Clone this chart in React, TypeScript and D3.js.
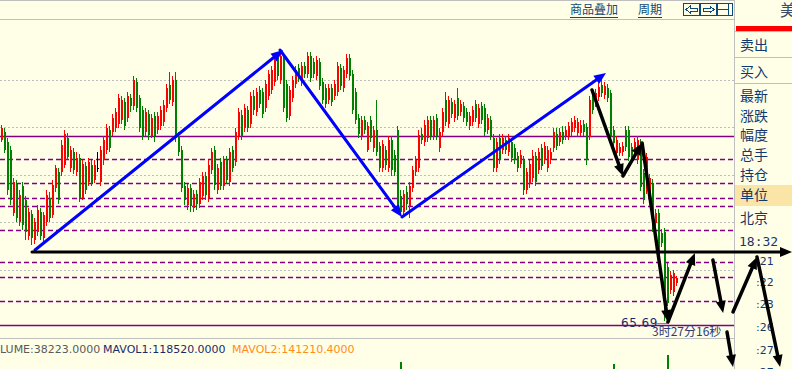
import * as d3 from "d3";

// candle prices, one per bar, left to right
const open = [
  67.50, 67.58, 67.48, 67.40, 66.77, 67.06, 66.68, 67.04, 66.90, 66.54,
  66.76, 66.50, 66.58, 66.78, 66.52, 66.68, 66.92, 66.75, 67.02, 67.18,
  67.18, 67.25, 67.52, 67.22, 67.38, 67.18, 67.32, 66.92, 67.24, 67.08,
  67.25, 67.10, 67.22, 67.08, 67.30, 67.40, 67.60, 67.58, 67.62, 67.66,
  67.70, 67.88, 67.72, 67.92, 67.84, 68.08, 67.92, 67.80, 67.58, 67.76,
  67.54, 67.74, 67.60, 67.64, 67.68, 67.82, 68.05, 67.88, 68.10, 67.54,
  67.40, 67.04, 66.85, 67.02, 66.82, 66.96, 66.86, 66.94, 67.14, 66.92,
  67.20, 67.40, 67.00, 67.28, 67.04, 67.30, 67.08, 67.40, 67.28, 67.54,
  67.75, 67.62, 67.80, 67.66, 67.94, 67.78, 68.00, 67.98, 67.82, 67.94,
  68.00, 68.08, 68.32, 68.10, 68.32, 68.06, 67.74, 67.92, 68.06, 68.22,
  68.08, 68.24, 68.16, 68.34, 68.28, 68.14, 68.28, 68.08, 68.02, 67.90,
  68.02, 67.94, 67.98, 68.22, 68.02, 68.16, 68.32, 68.16, 67.98, 67.72,
  67.54, 67.70, 67.40, 67.70, 67.42, 67.60, 67.44, 67.22, 67.40, 67.22,
  67.50, 67.35, 67.60, 66.94, 66.78, 66.98, 66.84, 67.02, 67.18, 67.22,
  67.56, 67.48, 67.52, 67.70, 67.54, 67.72, 67.42, 67.58, 67.90, 67.66,
  67.88, 67.72, 67.92, 67.78, 67.84, 67.78, 67.64, 67.68, 67.86, 67.66,
  67.84, 67.82, 67.60, 67.70, 67.52, 67.22, 67.52, 67.40, 67.50, 67.38,
  67.48, 67.42, 67.34, 67.26, 67.30, 67.00, 67.06, 67.12, 67.34, 67.20,
  67.42, 67.30, 67.22, 67.30, 67.42, 67.56, 67.48, 67.58, 67.54, 67.54,
  67.58, 67.62, 67.57, 67.57, 67.66, 67.63, 67.53, 67.93, 67.87, 67.93,
  68.05, 67.95, 68.02, 67.97, 67.60, 67.37, 67.37, 67.38, 67.60, 67.60,
  67.43, 67.40, 67.30, 67.47, 67.17, 67.00, 66.97, 67.07, 66.67, 66.77,
  66.57, 66.58, 66.23, 66.00, 65.98, 66.07,
];
const close = [
  67.62, 67.40, 67.00, 66.90, 67.08, 66.72, 66.95, 66.65, 66.58, 66.78,
  66.52, 66.68, 66.80, 66.54, 66.75, 66.95, 66.72, 67.05, 67.22, 66.90,
  67.45, 67.56, 67.33, 67.40, 67.20, 67.32, 66.92, 67.26, 67.00, 67.28,
  67.07, 67.25, 67.22, 67.40, 67.50, 67.62, 67.42, 67.72, 67.78, 67.92,
  67.90, 67.64, 67.94, 67.84, 68.10, 67.82, 67.62, 67.54, 67.78, 67.55,
  67.72, 67.54, 67.74, 67.80, 67.85, 68.02, 67.90, 68.10, 67.52, 67.38,
  67.02, 66.90, 67.02, 66.84, 66.96, 66.86, 67.08, 67.14, 66.95, 67.25,
  67.38, 67.05, 67.22, 67.04, 67.30, 67.10, 67.38, 67.22, 67.58, 67.78,
  67.54, 67.82, 67.62, 67.94, 67.80, 67.98, 67.86, 67.76, 68.06, 68.16,
  68.20, 68.30, 68.14, 68.34, 67.82, 67.72, 68.00, 68.10, 68.20, 68.12,
  68.24, 68.16, 68.34, 68.12, 68.16, 68.30, 68.04, 67.90, 67.86, 68.02,
  67.88, 68.06, 68.24, 68.04, 68.20, 68.32, 68.14, 67.80, 67.70, 67.56,
  67.70, 67.60, 67.64, 67.52, 67.60, 67.38, 67.22, 67.46, 67.25, 67.50,
  67.20, 67.18, 66.85, 66.78, 66.96, 66.86, 67.04, 67.20, 67.30, 67.55,
  67.50, 67.65, 67.70, 67.54, 67.70, 67.54, 67.58, 67.78, 67.68, 67.90,
  67.76, 67.86, 67.74, 67.86, 67.72, 67.68, 67.74, 67.80, 67.72, 67.82,
  67.70, 67.58, 67.72, 67.54, 67.22, 67.48, 67.30, 67.52, 67.40, 67.52,
  67.32, 67.30, 67.22, 67.35, 67.00, 67.18, 67.26, 67.34, 67.08, 67.38,
  67.24, 67.44, 67.40, 67.38, 67.58, 67.44, 67.58, 67.50, 67.60, 67.64,
  67.68, 67.70, 67.68, 67.65, 67.58, 67.30, 67.90, 67.80, 67.97, 68.03,
  67.97, 68.04, 67.92, 67.53, 67.47, 67.50, 67.43, 67.44, 67.43, 67.33,
  67.30, 67.48, 67.50, 67.03, 66.90, 67.33, 67.12, 66.63, 66.77, 66.30,
  66.47, 65.77, 65.87, 66.15, 66.17, 66.12,
];
const high = [
  67.65, 67.62, 67.52, 67.44, 67.12, 67.10, 67.00, 67.08, 66.94, 66.82,
  66.80, 66.72, 66.85, 66.82, 66.78, 67.00, 66.98, 67.10, 67.25, 67.22,
  67.50, 67.60, 67.57, 67.44, 67.42, 67.38, 67.36, 67.30, 67.28, 67.32,
  67.30, 67.30, 67.38, 67.44, 67.54, 67.66, 67.64, 67.76, 67.82, 67.96,
  67.94, 67.92, 67.98, 67.96, 68.14, 68.12, 67.95, 67.84, 67.82, 67.80,
  67.76, 67.78, 67.78, 67.84, 67.90, 68.06, 68.18, 68.14, 68.18, 67.58,
  67.44, 67.08, 67.06, 67.06, 67.00, 67.00, 67.12, 67.18, 67.18, 67.30,
  67.42, 67.44, 67.26, 67.32, 67.34, 67.34, 67.42, 67.44, 67.62, 67.82,
  67.80, 67.86, 67.84, 67.98, 68.00, 68.02, 68.04, 68.02, 68.10, 68.20,
  68.24, 68.34, 68.38, 68.38, 68.36, 68.10, 68.04, 68.14, 68.24, 68.26,
  68.28, 68.28, 68.38, 68.38, 68.32, 68.34, 68.32, 68.12, 68.06, 68.06,
  68.06, 68.10, 68.28, 68.26, 68.24, 68.36, 68.36, 68.20, 68.02, 67.76,
  67.74, 67.74, 67.68, 67.74, 67.64, 67.90, 67.48, 67.50, 67.44, 67.54,
  67.54, 67.40, 67.64, 67.00, 67.00, 67.04, 67.08, 67.24, 67.34, 67.60,
  67.62, 67.70, 67.74, 67.74, 67.74, 67.76, 67.62, 67.82, 67.98, 67.94,
  67.92, 67.90, 68.02, 67.90, 67.88, 67.82, 67.78, 67.84, 67.90, 67.86,
  67.88, 67.86, 67.76, 67.74, 67.56, 67.52, 67.56, 67.56, 67.54, 67.56,
  67.52, 67.46, 67.38, 67.40, 67.34, 67.22, 67.30, 67.40, 67.38, 67.42,
  67.46, 67.48, 67.44, 67.42, 67.62, 67.62, 67.62, 67.64, 67.64, 67.68,
  67.72, 67.74, 67.72, 67.70, 67.70, 67.67, 67.94, 67.97, 68.01, 68.07,
  68.12, 68.08, 68.06, 68.00, 67.64, 67.54, 67.47, 67.48, 67.64, 67.64,
  67.47, 67.52, 67.54, 67.51, 67.21, 67.37, 67.16, 67.11, 66.81, 66.81,
  66.61, 66.62, 66.27, 66.19, 66.20, 66.14,
];
const low = [
  67.48, 67.37, 66.95, 66.85, 66.74, 66.68, 66.64, 66.60, 66.50, 66.50,
  66.45, 66.46, 66.54, 66.50, 66.48, 66.64, 66.68, 66.72, 66.98, 66.86,
  67.14, 67.22, 67.30, 67.18, 67.16, 67.14, 66.88, 66.90, 66.96, 67.04,
  67.04, 67.07, 67.18, 67.04, 67.25, 67.36, 67.38, 67.54, 67.58, 67.62,
  67.66, 67.60, 67.68, 67.78, 67.80, 67.78, 67.58, 67.50, 67.54, 67.50,
  67.52, 67.48, 67.56, 67.60, 67.64, 67.78, 67.86, 67.84, 67.48, 67.34,
  66.98, 66.85, 66.80, 66.78, 66.78, 66.80, 66.82, 66.90, 66.90, 66.88,
  67.16, 67.00, 66.96, 67.00, 67.00, 67.06, 67.04, 67.18, 67.24, 67.50,
  67.50, 67.58, 67.58, 67.62, 67.75, 67.74, 67.82, 67.72, 67.78, 67.90,
  67.96, 68.04, 68.10, 68.06, 67.78, 67.68, 67.70, 67.88, 68.02, 68.08,
  68.04, 68.12, 68.12, 68.08, 68.12, 68.10, 68.00, 67.86, 67.82, 67.86,
  67.84, 67.90, 67.94, 68.00, 67.98, 68.12, 68.10, 67.76, 67.66, 67.52,
  67.50, 67.56, 67.38, 67.48, 67.38, 67.34, 67.18, 67.18, 67.20, 67.18,
  67.14, 67.14, 66.80, 66.74, 66.74, 66.80, 66.72, 66.98, 67.14, 67.18,
  67.46, 67.44, 67.48, 67.50, 67.50, 67.50, 67.38, 67.54, 67.64, 67.62,
  67.72, 67.68, 67.70, 67.74, 67.68, 67.64, 67.60, 67.64, 67.68, 67.62,
  67.66, 67.54, 67.56, 67.50, 67.18, 67.18, 67.26, 67.36, 67.36, 67.34,
  67.28, 67.26, 67.18, 67.22, 66.95, 66.96, 67.02, 67.08, 67.04, 67.16,
  67.20, 67.26, 67.18, 67.26, 67.38, 67.40, 67.44, 67.46, 67.50, 67.50,
  67.54, 67.58, 67.53, 67.54, 67.54, 67.25, 67.50, 67.76, 67.83, 67.89,
  67.93, 67.91, 67.88, 67.49, 67.43, 67.33, 67.34, 67.34, 67.39, 67.29,
  67.26, 67.36, 67.26, 66.99, 66.86, 66.96, 66.93, 66.58, 66.63, 66.25,
  66.43, 65.69, 65.84, 65.96, 65.94, 66.04,
];

// volume bars that reach into the visible strip
const volIndex = [133, 204, 222];
const volValue = [226000, 220000, 250000];

// horizontal levels (prices)
const gridPrices = [68.1, 67.63, 67.15, 66.68, 66.2];
const solidLevels = [67.54, 65.65];
const dashedLevels = [67.31, 67.07, 66.92, 66.84, 66.6, 66.28, 66.13, 65.89];
const supportLevel = 66.38;
const supportFrom = 10.33;
const supportTo = 263.67;

// hand drawn arrows: [fromIndex, fromPrice, toIndex, toPrice]
const blueArrows = [
  [11.33, 66.4, 94, 68.4],
  [93, 68.4, 133.67, 66.73],
  [133.67, 66.73, 201.67, 68.17],
];
const blackArrows = [
  [197, 68.0, 207.3, 67.14],
  [207.3, 67.14, 213.7, 67.47],
  [213.7, 67.47, 222.3, 65.68],
  [222.3, 65.68, 231.3, 66.37],
  [237.3, 66.3, 240.7, 65.77],
  [244, 65.78, 252, 66.33],
  [252, 66.33, 259.7, 65.23],
  [242, 65.58, 244, 65.23],
];

const panelItems = ["卖出", "买入", "最新", "涨跌", "幅度", "总手", "持仓", "单位", "北京"];
const panelY = [50, 77, 101, 121, 140, 160, 180, 200, 223];
const timeLabel = "18:32";
const sideTicks = [":21", ":22", ":23", ":26", ":27", ":27"];
const sideTickY = [265, 286, 308, 331, 354, 376];

const lowLabel = "65.69";
const countdown = "3时27分16秒";
const volText = ["LUME:38223.0000", "MAVOL1:118520.0000", "MAVOL2:141210.4000"];

const BG = "#FFFFE8";
const NAVY = "#13386B";
const PURPLE = "#800080";

function Arrow({ x1, y1, x2, y2, color, width, hl, hw }: any) {
  const a = Math.atan2(y2 - y1, x2 - x1);
  const bx = x2 - hl * Math.cos(a);
  const by = y2 - hl * Math.sin(a);
  const px = -Math.sin(a) * hw;
  const py = Math.cos(a) * hw;
  return (
    <g>
      <line x1={x1} y1={y1} x2={bx} y2={by} stroke={color} strokeWidth={width} strokeLinecap="round" />
      <polygon points={`${x2},${y2} ${bx + px},${by + py} ${bx - px},${by - py}`} fill={color} />
    </g>
  );
}

export default function App() {
  const x = d3.scaleLinear().domain([0, open.length - 1]).range([1, 676]);
  const y = d3.scaleLinear().domain([65.5, 68.7]).range([340, 20]);
  const yVol = d3.scaleLinear().domain([0, 300000]).range([430, 340]);
  const chartRight = 734;

  return (
    <svg
      width={792}
      height={369}
      style={{ position: "absolute", left: 0, top: 0, background: BG }}
      fontFamily="DejaVu Sans"
    >
      <rect x={0} y={0} width={792} height={369} fill={BG} />

      {/* frame lines */}
      <line x1={0} x2={chartRight} y1={0.5} y2={0.5} stroke="#C0C0C0" />
      <line x1={0} x2={chartRight} y1={19.5} y2={19.5} stroke="#C0C0C0" />
      <line x1={0} x2={chartRight} y1={338.5} y2={338.5} stroke="#C0C0C0" />

      {/* grid */}
      {gridPrices.map((p) => (
        <line key={"g" + p} x1={0} x2={chartRight} y1={Math.round(y(p)) + 0.5} y2={Math.round(y(p)) + 0.5}
          stroke="#BDBDBD" strokeDasharray="2,2" />
      ))}
      {dashedLevels.map((p) => (
        <line key={"d" + p} x1={0} x2={chartRight} y1={Math.round(y(p)) + 0.5} y2={Math.round(y(p)) + 0.5}
          stroke={PURPLE} strokeWidth={1.3} strokeDasharray="5,3" />
      ))}
      {solidLevels.map((p) => (
        <line key={"s" + p} x1={0} x2={chartRight} y1={Math.round(y(p)) + 0.5} y2={Math.round(y(p)) + 0.5}
          stroke={PURPLE} strokeWidth={1.5} />
      ))}

      {/* candles */}
      <g shapeRendering="crispEdges">
        {open.map((o, i) => {
          const c = close[i];
          const col = c > o ? "#FF0000" : c < o ? "#008000" : "#000000";
          const cx = Math.round(x(i));
          const top = y(Math.max(o, c));
          const bot = y(Math.min(o, c));
          return (
            <g key={i}>
              <rect x={cx} y={y(high[i])} width={1} height={y(low[i]) - y(high[i])} fill={col} />
              <rect x={cx} y={top} width={2} height={Math.max(1, bot - top)} fill={col} />
            </g>
          );
        })}
        {volIndex.map((vi, k) => (
          <rect key={"v" + k} x={Math.round(x(vi))} y={yVol(volValue[k])} width={2}
            height={369 - yVol(volValue[k])} fill="#008000" />
        ))}
      </g>

      {/* blue trend arrows */}
      {blueArrows.map((a, k) => (
        <Arrow key={"b" + k} x1={x(a[0])} y1={y(a[1])} x2={x(a[2])} y2={y(a[3])}
          color="#0000FF" width={3} hl={12} hw={5} />
      ))}

      {/* toolbar */}
      <g fontFamily="Noto Sans CJK SC" fontSize={12} fill="#0B4A7A">
        <text x={570} y={14}>商品叠加</text>
        <line x1={570} x2={618} y1={17.5} y2={17.5} stroke="#0B4A7A" />
        <text x={638} y={14}>周期</text>
        <line x1={638} x2={662} y1={17.5} y2={17.5} stroke="#0B4A7A" />
      </g>
      <g stroke="#0B4A7A" fill="none" strokeWidth={1} shapeRendering="crispEdges">
        <rect x={683.5} y={3.5} width={16} height={12} />
        <rect x={700.5} y={3.5} width={16} height={12} />
        <rect x={717.5} y={3.5} width={15} height={12} />
        <path d="M686,9.5 L690,6 L690,8 L697,8 L697,11 L690,11 L690,13 Z" />
        <path d="M714,9.5 L710,6 L710,8 L703,8 L703,11 L710,11 L710,13 Z" />
        <line x1={717.5} x2={728} y1={9.5} y2={9.5} />
        <line x1={728.5} x2={728.5} y1={3.5} y2={15.5} />
      </g>

      {/* right panel */}
      <rect x={735} y={0} width={57} height={369} fill={BG} />
      <line x1={734.5} x2={734.5} y1={0} y2={369} stroke="#C0C0C0" />
      <text x={780} y={16} fontFamily="Noto Sans CJK SC" fontSize={16} fill="#3A4A6A">美</text>
      <rect x={736} y={26} width={56} height={5} fill="#FF0000" />
      <line x1={735} x2={792} y1={31.5} y2={31.5} stroke="#C0C0C0" />
      <line x1={735} x2={792} y1={57.5} y2={57.5} stroke="#C0C0C0" />
      <line x1={735} x2={792} y1={83.5} y2={83.5} stroke="#C0C0C0" />
      <rect x={735} y={185} width={57} height={21} fill="#FBE5A6" />
      <g fontFamily="Noto Sans CJK SC" fontSize={14} fill={NAVY}>
        {panelItems.map((t, k) => (
          <text key={t} x={740} y={panelY[k]}>{t}</text>
        ))}
      </g>
      <text x={739} y={246} fontFamily="DejaVu Sans Mono" fontSize={13} fill={NAVY}>{timeLabel}</text>
      <g fontSize={11} fill={NAVY}>
        {sideTicks.map((t, k) => (
          <text key={k} x={756} y={sideTickY[k]}>{t}</text>
        ))}
      </g>

      {/* labels */}
      <text x={621} y={327} fontSize={12} fill="#1A2A6A" letterSpacing={0.5}>{lowLabel}</text>
      <line x1={656} x2={667} y1={323.5} y2={323.5} stroke="#888888" />
      <text x={652} y={336} fontFamily="Noto Sans CJK SC" fontSize={12} fill="#2A3A7A">{countdown}</text>

      <text y={353} fontSize={11}>
        <tspan x={0} fill="#5A5A5A">{volText[0]}</tspan>
        <tspan x={103} fill="#1A2A6A">{volText[1]}</tspan>
        <tspan x={232} fill="#FF8C1A">{volText[2]}</tspan>
      </text>

      {/* support line and black arrows */}
      <Arrow x1={x(supportFrom)} y1={y(supportLevel)} x2={x(supportTo)} y2={y(supportLevel)}
        color="#000000" width={3} hl={12} hw={5} />
      {blackArrows.map((a, k) => (
        <Arrow key={"k" + k} x1={x(a[0])} y1={y(a[1])} x2={x(a[2])} y2={y(a[3])}
          color="#000000" width={3.5} hl={12} hw={5} />
      ))}
    </svg>
  );
}
